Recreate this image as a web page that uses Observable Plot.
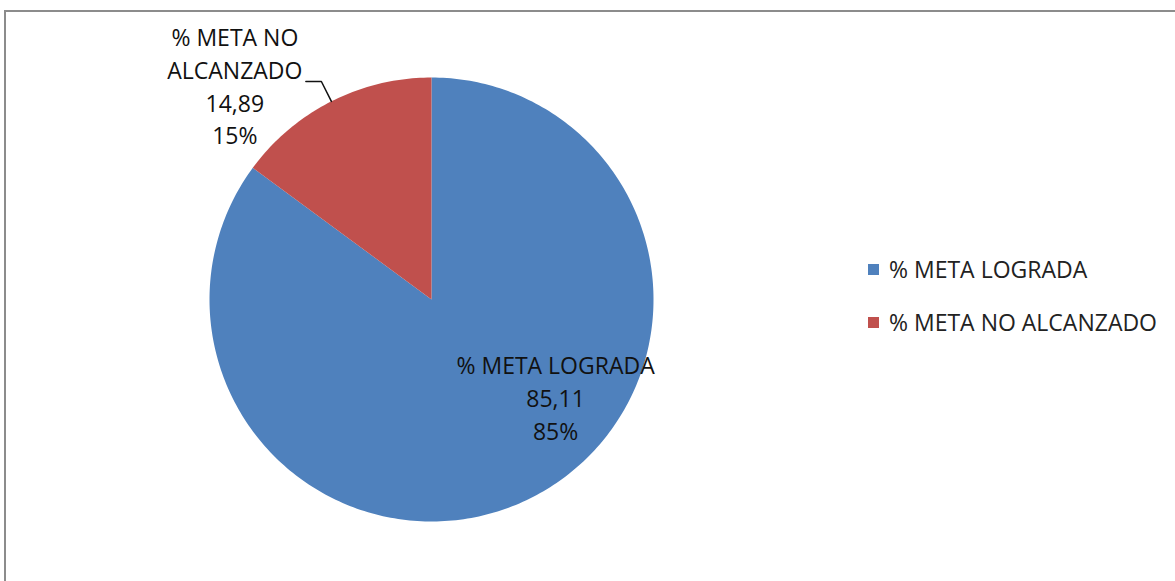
<!DOCTYPE html>
<html>
<head>
<meta charset="utf-8">
<script src="https://cdn.jsdelivr.net/npm/d3@7"></script>
<script src="https://cdn.jsdelivr.net/npm/@observablehq/plot@0.6"></script>
<style>
  html, body { margin: 0; padding: 0; background: #fff; overflow: hidden; }
  #wrap { position: relative; width: 1175px; height: 581px; font-family: "Open Sans", sans-serif; }
  #frame { position: absolute; left: 4px; top: 10px; width: 1300px; height: 700px; border: 2px solid #8c8c8c; box-sizing: border-box; pointer-events: none; }
  #legend { position: absolute; left: 868px; top: 256px; font-size: 23px; color: #222; }
  #legend .item { display: flex; align-items: center; height: 26px; margin-bottom: 27px; }
  #legend .sw { width: 11px; height: 11px; margin-right: 10px; }
  #chart { position: absolute; left: 0; top: 0; }
</style>
</head>
<body>
<div id="wrap">
  <div id="chart"></div>
  <div id="frame"></div>
  <div id="legend"></div>
</div>
<script>
const categories = ["% META LOGRADA", "% META NO ALCANZADO"];
const values = [85.11, 14.89];
const percentLabels = ["85%", "15%"];
const valueLabels = ["85,11", "14,89"];
const colors = ["#4F81BD", "#C0504D"];

const data = categories.map((c, i) => ({category: c, value: values[i], pct: percentLabels[i], vlabel: valueLabels[i]}));

// angles via d3.pie; start at 12 o'clock, going clockwise
const pie = d3.pie().value(d => d.value).sort(null).startAngle(0).endAngle(2 * Math.PI);
const arcs = pie(data);

// polygon points for each slice (unit circle, y up)
const pts = [];
for (const a of arcs) {
  const n = Math.max(2, Math.ceil((a.endAngle - a.startAngle) / (Math.PI / 180)));
  pts.push({category: a.data.category, x: 0, y: 0});
  for (let k = 0; k <= n; k++) {
    const t = a.startAngle + (a.endAngle - a.startAngle) * k / n;
    pts.push({category: a.data.category, x: Math.sin(t), y: Math.cos(t)});
  }
}

const mid = a => (a.startAngle + a.endAngle) / 2;
const blue = arcs[0], red = arcs[1];

// inside label for big slice
const inner = [{a: blue, r: 0.72}].map(({a, r}) => ({
  x: r * Math.sin(mid(a)), y: r * Math.cos(mid(a)),
  text: `${a.data.category}\n${a.data.vlabel}\n${a.data.pct}`
}));

// leader line for small slice: from arc edge outward then horizontal
const mr = mid(red);
const p1 = {x: Math.sin(mr), y: Math.cos(mr)};
const p2 = {x: 1.1 * Math.sin(mr), y: 1.1 * Math.cos(mr)};
const leader = [p1, p2, {x: p2.x - 0.07, y: p2.y}];
const outerLabel = [{x: p2.x - 0.07, y: p2.y, text: "% META NO\nALCANZADO\n" + red.data.vlabel + "\n" + red.data.pct}];

const chart = Plot.plot({
  width: 1175,
  height: 581,
  marginLeft: 209,
  marginRight: 522,
  marginTop: 77,
  marginBottom: 60,
  x: {domain: [-1, 1], axis: null},
  y: {domain: [-1, 1], axis: null},
  color: {domain: categories, range: colors},
  style: {fontFamily: "Open Sans, sans-serif", background: "transparent"},
  marks: [
    Plot.line(pts, {x: "x", y: "y", z: "category", fill: "category", stroke: "none", curve: "linear-closed"}),
    Plot.line(leader, {x: "x", y: "y", stroke: "#111", strokeWidth: 1.5}),
    Plot.text(inner, {x: "x", y: "y", text: "text", dx: 52, dy: -46, fontSize: 23, lineHeight: 1.43, fill: "#111"}),
    Plot.text(outerLabel, {x: "x", y: "y", text: "text", dx: -71, dy: 3, fontSize: 23, lineHeight: 1.43, fill: "#111"})
  ]
});
document.getElementById("chart").appendChild(chart);

const legend = document.getElementById("legend");
categories.forEach((c, i) => {
  const item = document.createElement("div");
  item.className = "item";
  const sw = document.createElement("span");
  sw.className = "sw";
  sw.style.background = colors[i];
  const t = document.createElement("span");
  t.textContent = c;
  item.appendChild(sw);
  item.appendChild(t);
  legend.appendChild(item);
});
</script>
</body>
</html>
